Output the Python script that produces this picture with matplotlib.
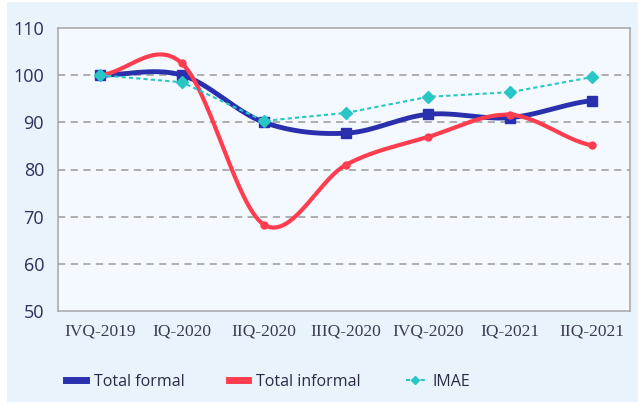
import numpy as np
import matplotlib.pyplot as plt
from matplotlib.patches import Rectangle
from matplotlib.lines import Line2D

quarters = ['IVQ-2019', 'IQ-2020', 'IIQ-2020', 'IIIQ-2020', 'IVQ-2020', 'IQ-2021', 'IIQ-2021']
total_formal = [100.0, 100.0, 90.0, 87.7, 91.7, 91.0, 94.6]
total_informal = [100.0, 102.5, 68.3, 81.0, 86.9, 91.6, 85.1]
imae = [100.0, 98.5, 90.3, 92.0, 95.4, 96.4, 99.6]

c_formal = '#2a2fae'
c_informal = '#ff3d4f'
c_imae = '#29c6c6'


# smooth curve through points (like excel "smoothed line")
def smooth(xs, ys, n=30, t=0.5):
    xs = np.asarray(xs, float)
    ys = np.asarray(ys, float)
    px = np.concatenate([[2 * xs[0] - xs[1]], xs, [2 * xs[-1] - xs[-2]]])
    py = np.concatenate([[ys[0]], ys, [ys[-1]]])
    ox, oy = [], []
    for i in range(1, len(px) - 2):
        s = np.linspace(0, 1, n)
        m1x = t * (px[i + 1] - px[i - 1])
        m2x = t * (px[i + 2] - px[i])
        m1y = t * (py[i + 1] - py[i - 1])
        m2y = t * (py[i + 2] - py[i])
        h00 = 2 * s**3 - 3 * s**2 + 1
        h10 = s**3 - 2 * s**2 + s
        h01 = -2 * s**3 + 3 * s**2
        h11 = s**3 - s**2
        ox.append(h00 * px[i] + h10 * m1x + h01 * px[i + 1] + h11 * m2x)
        oy.append(h00 * py[i] + h10 * m1y + h01 * py[i + 1] + h11 * m2y)
    return np.concatenate(ox), np.concatenate(oy)


fig = plt.figure(figsize=(6.41, 4.07), dpi=100, facecolor='white')
bg = Rectangle((7 / 641, 5 / 407), 631 / 641, 400 / 407,
               transform=fig.transFigure, facecolor='#e8f3fc',
               edgecolor='none', zorder=-10)
fig.add_artist(bg)

ax = fig.add_axes([58 / 641, 1 - 311 / 407, 572 / 641, 283 / 407])
ax.set_zorder(5)
ax.set_facecolor('#f3f9fe')
x = np.arange(len(quarters))

sx, sy = smooth(x, total_formal)
ax.plot(sx, sy, color=c_formal, lw=3.5, zorder=3, solid_capstyle='round')
ax.plot(x, total_formal, 's', color=c_formal, ms=7, zorder=4)

sx, sy = smooth(x, total_informal)
ax.plot(sx, sy, color=c_informal, lw=3, zorder=5, solid_capstyle='round')
ax.plot(x, total_informal, 'o', color=c_informal, ms=5, zorder=5)

ax.plot(x, imae, color=c_imae, lw=1.5, ls=(0, (2, 1.5)), marker='D', ms=6,
        zorder=6)

ax.set_xlim(-0.51, 6.46)
ax.set_ylim(50, 110)
ax.set_yticks(range(50, 111, 10))
ax.set_xticks(x)
ax.set_xticklabels(quarters, fontsize=12.5, family='Liberation Serif', color='#3a3a50')
for lab in ax.get_yticklabels():
    lab.set_fontsize(13)
    lab.set_family('Open Sans')
    lab.set_color('#2e2e5a')
ax.tick_params(length=0, pad=10)
ax.tick_params(axis='x', pad=9)
for v in range(60, 101, 10):
    ax.axhline(v, color='#a8a8a8', lw=1.3, ls=(0, (4, 3)), zorder=1)
for s in ax.spines.values():
    s.set_color('#aaaaaa')
    s.set_linewidth(1.2)

handles = [Line2D([], [], color=c_formal, lw=5),
           Line2D([], [], color=c_informal, lw=5),
           Line2D([], [], color=c_imae, lw=1.5, ls=(0, (2, 1.5)), marker='D', ms=4)]
fig.legend(handles, ['Total formal', 'Total informal', 'IMAE'], loc='center left',
           bbox_to_anchor=(52 / 641, 1 - 382 / 407), ncol=3, frameon=False,
           handlelength=1.2, columnspacing=2.8, handletextpad=0.5,
           labelcolor='#2a2a48', prop={'family': 'Open Sans', 'size': 11.5})

fig.savefig('out.png', dpi=100, facecolor='white')
